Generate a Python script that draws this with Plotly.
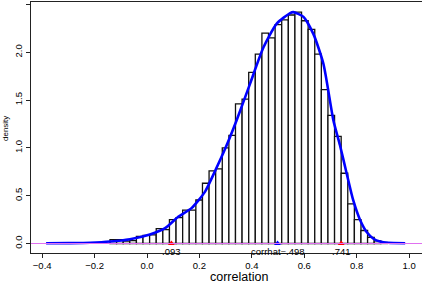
import plotly.graph_objects as go

# ---- data ----
bin_start = -0.1412
bin_width = 0.0252
densities = [0.04, 0.04, 0.025, 0.03, 0.075, 0.085, 0.09, 0.155, 0.145, 0.25,
             0.27, 0.35, 0.35, 0.455, 0.63, 0.76, 0.78, 1.0, 1.13, 1.46,
             1.51, 1.79, 1.98, 2.20, 2.15, 2.29, 2.34, 2.39, 2.42, 2.33,
             2.24, 1.98, 1.61, 1.34, 1.12, 0.735, 0.415, 0.25, 0.136, 0.063,
             0.028, 0.01]

curve_x = [-0.385, -0.30, -0.217, -0.14, -0.065, 0.011, 0.069, 0.119, 0.17, 0.221,
           0.26, 0.298, 0.342, 0.393, 0.444, 0.495, 0.546, 0.558, 0.597, 0.635,
           0.673, 0.711, 0.736, 0.762, 0.787, 0.813, 0.838, 0.864, 0.889, 0.92, 0.985]
curve_y = [0.002, 0.004, 0.008, 0.02, 0.045, 0.095, 0.16, 0.28, 0.37, 0.54,
           0.76, 0.99, 1.29, 1.67, 2.05, 2.30, 2.41, 2.42, 2.37, 2.19,
           1.88, 1.29, 1.03, 0.73, 0.45, 0.246, 0.12, 0.05, 0.02, 0.007, 0.002]

ci_values = [0.093, 0.741]
ci_labels = [".093", ".741"]
corrhat = 0.498
corrhat_label = "corrhat=.498"

x_ticks = [-0.4, -0.2, 0.0, 0.2, 0.4, 0.6, 0.8, 1.0]
x_tick_labels = ["\u22120.4", "\u22120.2", "0.0", "0.2", "0.4", "0.6", "0.8", "1.0"]
y_ticks = [0.0, 0.5, 1.0, 1.5, 2.0, 2.5]
y_tick_labels = ["0.0", "0.5", "1.0", "1.5", "2.0", "2.5"]

centers = [bin_start + bin_width * (i + 0.5) for i in range(len(densities))]

FONT = "Liberation Sans, Arial, Helvetica, sans-serif"
W, H = 422, 283
L, R, T, B = 31, 0, 2, 30  # margins in px

fig = go.Figure()
fig.add_trace(go.Bar(x=centers, y=densities, width=bin_width,
                     marker=dict(color="white", line=dict(color="#111111", width=1.3)),
                     hoverinfo="skip"))
fig.add_trace(go.Scatter(x=curve_x, y=curve_y, mode="lines",
                         line=dict(color="#0000ff", width=2.6, shape="spline", smoothing=0.6),
                         hoverinfo="skip"))
fig.add_shape(type="line", xref="paper", yref="y", x0=0, x1=1, y0=0, y1=0,
              line=dict(color="#e070f0", width=1.2), layer="above")
fig.add_trace(go.Scatter(x=ci_values, y=[0, 0], mode="markers",
                         marker=dict(symbol="triangle-up", size=6, color="red"),
                         hoverinfo="skip"))
fig.add_trace(go.Scatter(x=[corrhat], y=[0], mode="markers",
                         marker=dict(symbol="triangle-up", size=6, color="#0000ff"),
                         hoverinfo="skip"))

for v, t in zip(ci_values + [corrhat], ci_labels + [corrhat_label]):
    fig.add_annotation(x=v, y=0, xref="x", yref="y", text=t, showarrow=False,
                       yanchor="top", yshift=-0.5,
                       font=dict(family=FONT, size=9.5, color="black"))

pw, ph = W - L - R, H - T - B
# x title
fig.add_annotation(x=(239 - L) / pw, y=(H - B - 277) / ph, xref="paper", yref="paper",
                   text="correlation", showarrow=False, xanchor="center", yanchor="middle",
                   font=dict(family=FONT, size=12.5, color="black"))
# y title
fig.add_annotation(x=(5 - L) / pw, y=(H - B - 128) / ph, xref="paper", yref="paper",
                   text="density", showarrow=False, xanchor="center", yanchor="middle",
                   textangle=-90, font=dict(family=FONT, size=8, color="black"))

fig.update_layout(
    width=W, height=H,
    margin=dict(l=L, r=R, t=T, b=B, autoexpand=False),
    paper_bgcolor="white", plot_bgcolor="white",
    showlegend=False,
    bargap=0,
    hovermode=False,
    font=dict(family=FONT, size=9, color="black"),
)

fig.update_xaxes(range=[-0.4426, 1.0492], tickvals=x_ticks, ticktext=x_tick_labels,
                 showgrid=False, zeroline=False, showline=True, linecolor="#222",
                 linewidth=1, mirror=True, ticks="outside", ticklen=4, tickcolor="#222",
                 tickfont=dict(family=FONT, size=9.5), automargin=False)
fig.update_yaxes(range=[-0.0994, 2.526], tickvals=y_ticks, ticktext=y_tick_labels,
                 showgrid=False, zeroline=False, showline=True, linecolor="#222",
                 linewidth=1, mirror=True, ticks="outside", ticklen=4, tickcolor="#222",
                 tickangle=-90, tickfont=dict(family=FONT, size=9.5), automargin=False)

fig.write_html("out.html", config={"displayModeBar": False, "staticPlot": True},
               post_script="document.body.style.margin='0';document.body.style.overflow='hidden';")
